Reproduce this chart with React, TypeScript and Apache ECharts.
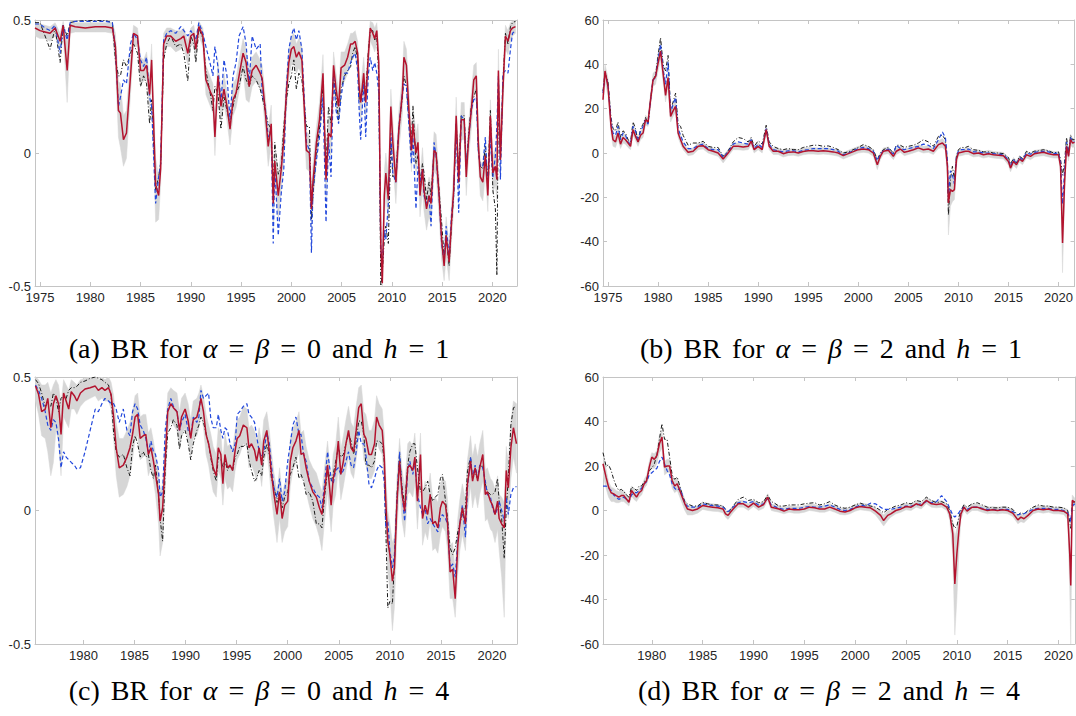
import React, { useEffect, useRef } from 'react';
import * as echarts from 'echarts';

// ---------- Panel (a): alpha = beta = 0, h = 1 ----------
const A_X = [1974.5,1975.0,1975.5,1976.0,1976.5,1977.0,1977.3,1977.7,1978.0,1978.5,
1979.5,1980.5,1981.5,1982.2,1982.5,1982.8,1983.0,1983.3,1983.6,1984.0,
1984.3,1984.7,1985.0,1985.3,1985.6,1985.9,1986.1,1986.5,1986.8,1987.0,
1987.3,1987.6,1988.0,1988.5,1989.0,1989.3,1989.7,1990.0,1990.3,1990.5,
1990.8,1991.2,1991.5,1992.0,1992.2,1992.4,1992.7,1993.0,1993.3,1993.6,
1993.9,1994.2,1994.5,1994.8,1995.2,1995.5,1995.8,1996.1,1996.5,1996.9,
1997.1,1997.4,1997.7,1998.0,1998.2,1998.35,1998.7,1999.0,1999.25,1999.5,
1999.75,2000.0,2000.25,2000.5,2000.75,2001.05,2001.5,2001.8,2002.0,2002.15,
2002.5,2002.8,2003.15,2003.45,2003.7,2003.95,2004.2,2004.45,2004.7,2004.95,
2005.3,2005.6,2005.9,2006.1,2006.35,2006.6,2006.75,2006.9,2007.2,2007.4,
2007.65,2007.85,2008.1,2008.3,2008.5,2008.7,2008.9,2009.05,2009.25,2009.4,
2009.65,2009.9,2010.1,2010.4,2010.7,2011.05,2011.2,2011.45,2011.7,2011.95,
2012.1,2012.4,2012.6,2012.8,2013.05,2013.2,2013.45,2013.7,2013.9,2014.2,
2014.4,2014.7,2014.95,2015.2,2015.4,2015.7,2015.95,2016.15,2016.4,2016.65,
2016.9,2017.2,2017.4,2017.65,2017.9,2018.15,2018.4,2018.6,2018.8,2019.05,
2019.3,2019.55,2019.8,2020.05,2020.3,2020.45,2020.6,2020.8,2021.05,2021.3,
2021.55,2021.8,2022.0,2022.3];
const A_RED = [0.47,0.46,0.455,0.45,0.47,0.42,0.48,0.31,0.48,0.475,
0.47,0.475,0.475,0.47,0.40,0.16,0.15,0.05,0.075,0.29,
0.45,0.44,0.31,0.31,0.33,0.22,0.35,-0.12,-0.16,-0.06,
0.41,0.44,0.44,0.42,0.43,0.44,0.375,0.44,0.45,0.39,
0.475,0.44,0.275,0.225,0.21,0.06,0.29,0.175,0.24,0.175,
0.09,0.2,0.225,0.29,0.375,0.34,0.25,0.31,0.33,0.30,
0.28,0.16,0.025,0.11,-0.19,-0.03,-0.16,-0.06,0.05,0.22,
0.34,0.39,0.40,0.36,0.38,0.35,0.01,0.0,-0.21,-0.11,
0.04,0.125,0.3,-0.1,0.075,0.06,0.33,0.24,0.175,0.32,
0.33,0.36,0.41,0.41,0.42,0.375,0.25,0.19,0.3,0.19,
0.36,0.47,0.45,0.43,0.46,0.34,-0.34,-0.49,-0.16,-0.075,
-0.175,0.175,0.04,-0.11,0.09,0.225,0.36,0.33,0.16,0.01,
0.11,0.0,0.04,-0.16,-0.06,-0.14,-0.21,-0.16,-0.19,0.01,
0.0,-0.16,-0.325,-0.425,-0.31,-0.41,-0.25,-0.14,0.14,-0.11,
0.125,0.125,-0.09,0.06,0.16,0.275,0.29,0.04,-0.09,-0.11,
-0.01,-0.16,0.14,-0.075,-0.05,-0.1,0.31,-0.025,0.24,0.44,
0.42,0.46,0.47,0.475];
const A_BLACK = [0.49,0.49,0.44,0.39,0.47,0.34,0.48,0.44,0.49,0.495,
0.498,0.498,0.498,0.49,0.35,0.29,0.29,0.35,0.325,0.375,
0.41,0.375,0.25,0.29,0.26,0.11,0.2,-0.14,-0.09,-0.04,
0.35,0.41,0.44,0.40,0.41,0.375,0.27,0.44,0.41,0.34,
0.47,0.43,0.31,0.21,0.16,0.25,0.225,0.09,0.21,0.16,
0.11,0.175,0.225,0.25,0.325,0.275,0.25,0.29,0.275,0.24,
0.21,0.16,0.11,0.09,-0.14,0.04,-0.08,-0.05,0.1,0.2,
0.26,0.29,0.35,0.24,0.3,0.275,0.1,0.1,-0.25,-0.16,
0.01,0.09,0.25,-0.06,0.175,0.11,0.29,0.21,0.125,0.24,
0.29,0.31,0.325,0.375,0.4,0.35,0.2,0.19,0.26,0.225,
0.375,0.46,0.46,0.425,0.44,0.29,-0.5,-0.45,-0.325,-0.275,
-0.34,0.04,-0.09,-0.075,0.09,0.21,0.29,0.25,0.125,0.04,
0.175,-0.04,-0.01,-0.11,-0.04,-0.075,-0.175,-0.11,-0.16,0.01,
0.0,-0.14,-0.26,-0.39,-0.31,-0.425,-0.26,-0.16,0.11,-0.06,
0.14,0.14,-0.06,0.075,0.175,0.21,0.24,0.01,-0.05,-0.06,
0.025,-0.11,0.16,-0.14,-0.21,-0.46,0.225,-0.025,0.26,0.45,
0.41,0.475,0.49,0.495];
const A_BLUE = [0.485,0.485,0.47,0.46,0.48,0.375,0.48,0.425,0.49,0.495,
0.495,0.495,0.495,0.49,0.39,0.175,0.21,0.275,0.26,0.41,
0.45,0.425,0.35,0.325,0.36,0.21,0.175,-0.19,-0.09,-0.04,
0.425,0.45,0.46,0.45,0.475,0.46,0.44,0.46,0.44,0.425,
0.49,0.45,0.4,0.325,0.29,0.4,0.325,0.19,0.35,0.29,
0.125,0.29,0.34,0.44,0.475,0.41,0.26,0.44,0.39,0.41,
0.225,0.175,0.06,0.09,-0.34,-0.05,-0.31,-0.15,-0.06,0.24,
0.39,0.44,0.47,0.425,0.46,0.39,0.04,0.01,-0.375,-0.14,
-0.025,0.06,0.21,-0.26,0.05,-0.09,0.29,0.16,0.11,0.21,
0.3,0.3,0.34,0.36,0.375,0.31,0.16,0.05,0.275,0.06,
0.29,0.36,0.31,0.34,0.3,0.225,-0.36,-0.41,-0.29,-0.325,
-0.19,0.075,-0.075,-0.11,0.1,0.225,0.26,0.25,0.1,-0.04,
0.06,-0.21,-0.05,-0.11,-0.06,-0.16,-0.19,-0.16,-0.275,0.04,
-0.01,-0.16,-0.34,-0.41,-0.275,-0.39,-0.225,-0.16,0.11,-0.225,
0.14,0.125,-0.05,0.06,0.16,0.2,0.21,0.01,-0.05,-0.05,
0.06,-0.14,0.06,-0.09,-0.01,0.1,0.29,-0.1,0.3,0.31,
0.3,0.39,0.45,0.46];
const A_LO = [0.44,0.43,0.43,0.42,0.44,0.38,0.45,0.19,0.45,0.455,
0.455,0.455,0.455,0.45,0.33,0.06,0.02,-0.05,-0.02,0.22,
0.40,0.40,0.26,0.27,0.28,0.16,0.28,-0.26,-0.25,-0.12,
0.36,0.40,0.40,0.38,0.39,0.40,0.33,0.40,0.41,0.34,
0.44,0.40,0.22,0.17,0.15,-0.01,0.22,0.12,0.18,0.12,
0.03,0.14,0.17,0.23,0.31,0.2,0.19,0.25,0.27,0.24,
0.22,0.09,-0.05,0.03,-0.3,-0.1,-0.25,-0.14,-0.03,0.15,
0.28,0.33,0.34,0.30,0.32,0.29,-0.06,-0.07,-0.29,-0.19,
-0.03,0.06,0.23,-0.17,0.0,-0.01,0.26,0.17,0.11,0.25,
0.27,0.30,0.35,0.35,0.37,0.31,0.18,0.12,0.23,0.12,
0.29,0.42,0.40,0.38,0.41,0.27,-0.45,-0.5,-0.26,-0.16,
-0.26,0.1,-0.04,-0.19,0.01,0.15,0.28,0.26,0.09,-0.07,
0.04,-0.08,-0.03,-0.24,-0.14,-0.22,-0.29,-0.24,-0.27,-0.07,
-0.08,-0.24,-0.4,-0.48,-0.39,-0.48,-0.32,-0.21,0.07,-0.18,
0.05,0.05,-0.16,-0.01,0.09,0.21,0.23,-0.03,-0.16,-0.18,
-0.08,-0.22,0.07,-0.15,-0.12,-0.18,0.23,-0.09,0.17,0.39,
0.37,0.42,0.44,0.45];
const A_HI = [0.49,0.485,0.48,0.475,0.49,0.45,0.495,0.42,0.495,0.49,
0.49,0.49,0.49,0.49,0.45,0.27,0.26,0.14,0.16,0.36,
0.48,0.47,0.36,0.35,0.38,0.28,0.41,-0.02,-0.09,0.01,
0.45,0.47,0.47,0.46,0.46,0.47,0.42,0.47,0.48,0.43,
0.495,0.47,0.33,0.28,0.26,0.13,0.35,0.23,0.3,0.23,
0.15,0.26,0.28,0.35,0.43,0.39,0.31,0.36,0.38,0.35,
0.33,0.22,0.09,0.18,-0.1,0.03,-0.08,0.01,0.12,0.28,
0.39,0.44,0.45,0.41,0.43,0.40,0.08,0.07,-0.12,-0.04,
0.1,0.19,0.37,-0.02,0.14,0.12,0.38,0.3,0.23,0.38,
0.38,0.41,0.45,0.45,0.46,0.42,0.31,0.25,0.36,0.25,
0.41,0.495,0.49,0.47,0.49,0.4,-0.2,-0.4,-0.07,0.0,
-0.09,0.24,0.12,-0.04,0.16,0.29,0.42,0.39,0.23,0.08,
0.18,0.07,0.11,-0.09,0.02,-0.07,-0.14,-0.09,-0.12,0.08,
0.07,-0.09,-0.26,-0.37,-0.24,-0.35,-0.18,-0.07,0.21,-0.04,
0.19,0.19,-0.02,0.12,0.22,0.33,0.34,0.1,-0.03,-0.05,
0.05,-0.1,0.2,-0.01,0.02,-0.03,0.39,0.04,0.3,0.48,
0.46,0.49,0.495,0.5];

// ---------- Panel (b): alpha = beta = 2, h = 1 ----------
const B_X = [1974.5,1974.7,1975.0,1975.3,1975.5,1975.75,1976.0,1976.25,1976.5,1976.75,
1977.0,1977.25,1977.5,1977.75,1978.0,1978.25,1978.5,1978.75,1979.0,1979.25,
1979.5,1979.75,1980.0,1980.25,1980.5,1980.75,1981.0,1981.25,1981.5,1981.75,
1982.0,1982.25,1982.5,1983.0,1983.5,1984.0,1984.5,1985.0,1985.5,1986.0,
1986.5,1987.0,1987.5,1988.0,1988.5,1989.0,1989.3,1989.6,1990.0,1990.4,
1990.8,1991.1,1991.5,1992.0,1992.5,1993.0,1993.5,1994.0,1994.5,1995.0,
1995.5,1996.0,1996.5,1997.0,1997.5,1998.0,1998.5,1999.0,2000.0,2000.5,
2001.0,2001.5,2001.9,2002.2,2002.5,2003.0,2003.5,2003.8,2004.2,2004.6,
2005.0,2005.5,2006.0,2006.5,2007.0,2007.5,2008.0,2008.4,2008.7,2008.9,
2009.0,2009.2,2009.4,2009.6,2009.8,2010.0,2010.3,2010.7,2011.0,2011.5,
2012.0,2012.5,2013.0,2013.5,2014.0,2014.5,2015.0,2015.2,2015.5,2015.8,
2016.1,2016.4,2016.8,2017.2,2017.6,2018.0,2018.5,2019.0,2019.5,2020.0,
2020.2,2020.4,2020.6,2020.8,2021.0,2021.2,2021.4,2021.6];
const B_RED = [24,37,30,12,6,5,9,4,7,6,
4.5,3,10.5,7.5,5,8,9,15,14,24,
33,34.5,40.5,46,36,26,34,16.5,19,21,
9,6,3,0.3,0.8,3,3.3,1.5,0.8,0,
-2.7,0,3,3,2.7,3,5.3,1.5,3,1.5,
10.5,3,0.8,0.8,-0.3,0.3,0.5,0,0.7,1,
1,0.8,1,0.8,0.5,0,-1.2,-0.3,1.5,1.8,
1.5,0,-5.3,-1.5,0.8,1.2,-1.5,0.8,1.8,0.3,
0.8,1.5,2.3,1.5,1.8,0.8,3.8,4.5,3,-6,
-22.5,-16.5,-17.3,-16.5,-3,0,0.3,0.8,0.8,-0.3,
0,-0.8,-0.3,-0.8,-1,-1.2,-3.8,-6.8,-3.8,-5.3,
-2.7,-3.8,-0.8,-1.5,-0.3,0,0.3,-0.3,-0.8,-0.8,
-6,-40.6,-13.5,3,-1.5,6,4.5,4.8];
const B_BLACK = [28,36,32,16,11,10,14,7,10,9,
6,5,14,11,5,11,13,16,13,24,
33,35,44,52,40,37,44,19,23,27,
13,12,8,3.5,4.5,4.5,5.3,3,2.5,2.5,
-1.5,1,5,7,6.5,5,7,3,5.5,4,
12.5,5,3,2,1.5,2,1.5,1.5,2.5,3,
3.5,3.5,3,3.2,2.5,1.5,0,0.5,2.5,3.8,
3,1.5,-3,0,1.5,2.5,0,3.5,3.5,2.5,
3,3.5,4.5,6,5,3,7.5,8,6,-5,
-28,-12,-6,-12,-1.5,1.5,2.5,2.5,3,1.5,
1.2,0.5,0.5,0,0,-0.3,-2,-5,-2.5,-4.5,
-1.5,-2.5,0.8,0,0.8,1,1.5,1,0,0.5,
-3,-10,-4,7,0,8,6,6];
const B_BLUE = [27,36,31,14,9,8,12,6,9,8,
5,4,12,10,5,10,12,15,13,24,
33,34,42,49,38,31,41,18,22,25,
11,8,5,2,2,3.5,4,2,1.5,1.5,
-2,0.5,4,5,4.5,4,6,2,4,2.5,
11,4,1.5,1,0.5,1,1,0.5,1.2,1.5,
2,2,2,2,1.5,0.8,-0.8,0,2,2.5,
2,0.8,-3.5,-0.5,1,1.8,-0.5,3.5,2,1.5,
2,2.5,3,4,3.5,2,6,9.5,7,-3,
-20,-8,-10,-14,-2,1,1.5,1.5,1.8,0.5,
0.5,0,0,-0.3,-0.5,-0.8,-3,-6,-3,-5,
-2,-3,0,-0.5,0.3,0.5,0.8,0.5,-0.3,0,
-4,-23,-8,5,-1,7,5,5];
const B_LO = [21,32,26,9,3,2.5,6,2,4.5,4,
2.5,1.5,8,5.5,3,6,7,12.5,12,21,
30,31,37,42,32,23,30,14,16.5,18.5,
7,4,1.5,-1.2,-0.8,1.5,1.8,0,-0.8,-1.5,
-4.5,-1.5,1.5,1.5,1.2,1.5,3.5,0,1.5,0,
8.5,1.5,-0.7,-0.7,-1.8,-1.2,-1,-1.5,-0.8,-0.5,
-0.5,-0.7,-0.5,-0.7,-1,-1.5,-2.7,-1.8,0,0.3,
0,-1.5,-7.5,-3,-0.7,-0.3,-3,-0.7,0.3,-1.2,
-0.7,0,0.8,0,0.3,-0.7,2,2.5,1,-12,
-37,-24,-22,-21,-6,-1.5,-1.2,-0.7,-0.7,-1.8,
-1.5,-2.3,-1.8,-2.3,-2.5,-2.7,-5.5,-8.5,-5.5,-7,
-4.2,-5.3,-2.3,-3,-1.8,-1.5,-1.2,-1.8,-2.3,-2.3,
-9,-54,-20,0.5,-3.5,3.5,2.5,2.8];
const B_HI = [30,40,34,15,8.5,7.5,11.5,6,9.5,8,
6.5,5,13,9.5,7,10,11,17,16,27,
36,37,45,50,40,29,37,19,21.5,23.5,
11,8,4.5,1.8,2.3,4.5,4.8,3,2.3,1.5,
-1,1.5,4.5,4.5,4.2,4.5,7,3,4.5,3,
12.5,4.5,2.3,2.3,1.2,1.8,2,1.5,2.2,2.5,
2.5,2.3,2.5,2.3,2,1.5,0.3,1.2,3,3.3,
3,1.5,-3,0,2.3,2.7,0,2.3,3.3,1.8,
2.3,3,3.8,3,3.3,2.3,5.5,6.5,5,-2,
-12,-10,-12,-11,-0.5,1.5,1.8,2.3,2.3,1.2,
1.5,0.7,1.2,0.7,0.5,0.3,-2,-5,-2,-3.5,
-1.2,-2.3,0.7,0,1.2,1.5,1.8,1.2,0.7,0.7,
-3,-25,-7,6,0.5,8.5,6.5,6.8];

// ---------- Panel (c): alpha = beta = 0, h = 4 ----------
const C_X = [1975.3,1975.6,1975.9,1976.25,1976.5,1976.8,1977.05,1977.3,1977.55,1977.8,
1978.05,1978.3,1978.55,1978.8,1979.1,1979.35,1979.7,1980.15,1980.65,1981.15,
1981.45,1981.8,1982.1,1982.45,1982.7,1982.95,1983.2,1983.5,1983.9,1984.25,
1984.55,1984.8,1985.05,1985.3,1985.55,1985.85,1986.1,1986.35,1986.6,1986.85,
1987.05,1987.35,1987.5,1987.75,1988.0,1988.25,1988.55,1988.8,1989.15,1989.4,
1989.6,1989.95,1990.25,1990.5,1990.75,1991.1,1991.3,1991.5,1991.75,1992.0,
1992.25,1992.45,1992.7,1993.0,1993.2,1993.45,1993.65,1993.85,1994.1,1994.35,
1994.6,1994.85,1995.05,1995.3,1995.65,1996.0,1996.2,1996.45,1996.75,1996.95,
1997.2,1997.45,1997.65,1997.95,1998.2,1998.4,1998.65,1998.95,1999.2,1999.45,
1999.7,2000.0,2000.25,2000.5,2000.8,2001.1,2001.3,2001.55,2001.8,2002.1,
2002.45,2002.8,2003.1,2003.35,2003.6,2003.9,2004.25,2004.45,2004.7,2004.95,
2005.2,2005.45,2005.7,2005.95,2006.2,2006.45,2006.7,2006.95,2007.2,2007.45,
2007.65,2007.95,2008.2,2008.5,2008.7,2008.95,2009.25,2009.45,2009.6,2009.8,
2010.0,2010.25,2010.45,2010.7,2010.95,2011.2,2011.45,2011.75,2011.95,2012.25,
2012.45,2012.7,2013.0,2013.2,2013.45,2013.7,2013.95,2014.2,2014.45,2014.7,
2014.95,2015.15,2015.45,2015.65,2015.9,2016.15,2016.4,2016.65,2016.85,2017.1,
2017.4,2017.6,2017.9,2018.1,2018.35,2018.6,2018.8,2019.1,2019.35,2019.55,
2019.85,2020.05,2020.3,2020.55,2020.7,2020.95,2021.2,2021.4,2021.6,2021.85,
2022.1,2022.4];
const C_RED = [0.466,0.435,0.37,0.38,0.42,0.31,0.40,0.43,0.40,0.285,
0.44,0.41,0.38,0.445,0.43,0.41,0.44,0.455,0.46,0.466,
0.45,0.46,0.45,0.46,0.435,0.35,0.235,0.16,0.17,0.2,
0.235,0.285,0.35,0.36,0.27,0.28,0.285,0.21,0.235,0.185,
0.135,0.06,-0.04,0.01,0.185,0.37,0.40,0.385,0.37,0.30,
0.35,0.38,0.335,0.27,0.34,0.35,0.38,0.42,0.37,0.285,
0.25,0.21,0.16,0.13,0.235,0.21,0.10,0.21,0.16,0.17,
0.15,0.225,0.27,0.28,0.32,0.31,0.235,0.25,0.225,0.185,
0.235,0.17,0.26,0.30,0.22,0.14,0.06,-0.015,0.07,-0.03,
0.02,0.035,0.185,0.235,0.26,0.30,0.21,0.215,0.16,0.11,
0.07,0.05,0.01,-0.015,0.07,0.17,0.02,0.12,0.16,0.26,
0.135,0.185,0.25,0.30,0.235,0.22,0.30,0.385,0.40,0.285,
0.27,0.21,0.21,0.25,0.35,0.32,0.30,0.20,0.035,-0.115,
-0.165,-0.265,-0.215,0.035,0.185,0.06,-0.003,0.16,0.17,0.15,
0.20,0.035,0.21,-0.03,0.02,-0.015,0.06,-0.05,-0.04,-0.065,
0.01,0.035,0.02,-0.05,-0.23,-0.22,-0.33,-0.13,-0.05,0.01,
-0.05,0.10,0.185,0.11,0.16,0.11,0.16,0.21,0.06,0.07,
0.035,0.02,-0.015,0.035,-0.03,-0.05,-0.065,0.15,0.085,0.235,
0.31,0.25];
const C_BLACK = [0.49,0.475,0.44,0.39,0.40,0.39,0.44,0.42,0.37,0.42,
0.43,0.42,0.45,0.46,0.46,0.465,0.48,0.485,0.495,0.5,
0.495,0.49,0.48,0.47,0.43,0.29,0.22,0.20,0.21,0.16,
0.13,0.24,0.28,0.25,0.20,0.22,0.20,0.21,0.15,0.12,
0.17,0.06,-0.03,-0.115,0.15,0.29,0.31,0.34,0.32,0.23,
0.28,0.30,0.25,0.19,0.25,0.30,0.32,0.35,0.33,0.29,
0.25,0.20,0.15,0.11,0.20,0.19,0.16,0.19,0.15,0.17,
0.15,0.20,0.21,0.24,0.24,0.25,0.19,0.15,0.11,0.12,
0.15,0.13,0.20,0.25,0.21,0.12,0.09,0.03,0.07,0.01,
0.05,0.07,0.135,0.16,0.20,0.12,0.135,0.11,0.06,0.07,
0.035,-0.05,-0.05,-0.065,0.05,0.15,0.11,0.135,0.185,0.235,
0.20,0.21,0.25,0.285,0.26,0.21,0.26,0.335,0.335,0.285,
0.17,0.17,0.16,0.185,0.26,0.26,0.25,0.185,-0.065,-0.365,
-0.34,-0.35,-0.19,0.06,0.21,0.085,0.02,0.17,0.22,0.25,
0.25,0.16,0.07,0.07,0.085,0.11,0.06,0.035,0.05,0.06,
0.12,0.135,0.035,-0.03,-0.14,-0.165,-0.14,-0.08,-0.05,-0.015,
0.01,0.15,0.20,0.12,0.135,0.12,0.16,0.17,0.10,0.07,
0.06,0.06,0.07,0.12,0.035,-0.03,-0.18,0.01,0.12,0.32,
0.385,0.39];
const C_BLUE = [0.47,0.45,0.42,0.37,0.32,0.30,0.34,0.33,0.27,0.16,
0.22,0.20,0.19,0.18,0.17,0.155,0.16,0.22,0.30,0.38,
0.37,0.40,0.42,0.41,0.40,0.40,0.38,0.33,0.38,0.30,
0.28,0.37,0.40,0.38,0.32,0.30,0.27,0.22,0.26,0.22,
0.21,0.15,0.05,0.07,0.30,0.38,0.42,0.39,0.37,0.30,
0.33,0.36,0.30,0.28,0.35,0.33,0.35,0.45,0.42,0.43,
0.44,0.35,0.31,0.31,0.36,0.30,0.27,0.31,0.30,0.25,
0.22,0.25,0.36,0.37,0.39,0.40,0.36,0.35,0.33,0.28,
0.22,0.20,0.22,0.29,0.25,0.17,0.085,0.05,0.12,0.035,
0.07,0.185,0.25,0.32,0.35,0.285,0.285,0.21,0.185,0.11,
0.085,0.06,0.05,0.01,0.10,0.22,0.12,0.10,0.15,0.16,
0.135,0.15,0.185,0.22,0.17,0.16,0.22,0.30,0.25,0.25,
0.21,0.10,0.085,0.12,0.15,0.17,0.16,0.11,-0.065,-0.04,
-0.15,-0.215,-0.165,0.035,0.22,0.06,-0.04,0.15,0.185,0.135,
0.185,0.06,0.01,-0.015,0.01,-0.05,-0.03,-0.05,-0.065,-0.08,
-0.03,-0.015,-0.03,-0.05,-0.215,-0.20,-0.25,-0.115,-0.05,0.02,
-0.10,0.085,0.20,0.12,0.17,0.12,0.17,0.16,0.11,0.06,
0.05,0.01,-0.015,0.01,0.035,0.0,-0.04,0.05,-0.015,0.06,
0.085,0.09];
const C_LO = [0.41,0.36,0.28,0.27,0.22,0.13,0.18,0.30,0.26,0.13,
0.35,0.33,0.31,0.38,0.38,0.36,0.39,0.41,0.42,0.43,
0.41,0.42,0.41,0.41,0.38,0.27,0.13,0.05,0.06,0.09,
0.13,0.19,0.27,0.28,0.19,0.20,0.21,0.13,0.16,0.11,
0.06,-0.05,-0.17,-0.12,0.08,0.30,0.34,0.32,0.30,0.23,
0.28,0.31,0.26,0.20,0.27,0.28,0.31,0.36,0.31,0.21,
0.17,0.12,0.07,0.05,0.15,0.12,0.02,0.12,0.08,0.09,
0.07,0.15,0.19,0.21,0.25,0.24,0.16,0.17,0.14,0.11,
0.16,0.09,0.18,0.22,0.14,0.05,-0.03,-0.12,-0.03,-0.12,
-0.08,-0.06,0.09,0.15,0.18,0.22,0.12,0.12,0.07,0.02,
-0.03,-0.06,-0.1,-0.15,-0.04,0.07,-0.08,0.02,0.06,0.16,
0.04,0.09,0.15,0.20,0.14,0.12,0.19,0.27,0.30,0.19,
0.17,0.12,0.12,0.15,0.26,0.23,0.21,0.10,-0.07,-0.23,
-0.3,-0.45,-0.36,-0.07,0.09,-0.04,-0.1,0.06,0.07,0.05,
0.10,-0.07,0.10,-0.13,-0.08,-0.11,-0.04,-0.15,-0.14,-0.16,
-0.09,-0.06,-0.08,-0.15,-0.33,-0.33,-0.40,-0.24,-0.15,-0.09,
-0.15,0.0,0.09,0.01,0.06,0.01,0.06,0.11,-0.04,-0.03,
-0.07,-0.08,-0.12,-0.07,-0.15,-0.25,-0.40,0.02,-0.03,0.12,
0.2,0.14];
const C_HI = [0.50,0.49,0.47,0.47,0.48,0.44,0.47,0.49,0.47,0.40,
0.49,0.47,0.45,0.49,0.48,0.47,0.49,0.495,0.50,0.50,
0.49,0.50,0.49,0.50,0.48,0.43,0.33,0.27,0.27,0.30,
0.33,0.37,0.43,0.44,0.35,0.36,0.36,0.29,0.31,0.26,
0.21,0.14,0.07,0.10,0.27,0.44,0.46,0.45,0.44,0.37,
0.42,0.44,0.40,0.34,0.41,0.42,0.44,0.47,0.43,0.36,
0.32,0.29,0.24,0.21,0.31,0.29,0.18,0.29,0.24,0.25,
0.23,0.30,0.34,0.35,0.39,0.38,0.31,0.32,0.30,0.26,
0.31,0.25,0.34,0.37,0.30,0.22,0.14,0.07,0.16,0.06,
0.10,0.12,0.27,0.31,0.33,0.37,0.29,0.30,0.24,0.19,
0.16,0.14,0.10,0.07,0.16,0.26,0.11,0.21,0.25,0.35,
0.23,0.28,0.34,0.39,0.33,0.31,0.39,0.46,0.47,0.37,
0.36,0.30,0.30,0.34,0.43,0.40,0.38,0.29,0.13,0.0,
-0.05,-0.12,-0.1,0.13,0.27,0.15,0.09,0.25,0.26,0.24,
0.29,0.12,0.29,0.06,0.11,0.07,0.14,0.04,0.05,0.03,
0.1,0.12,0.11,0.04,-0.13,-0.12,-0.23,-0.03,0.04,0.1,
0.04,0.19,0.28,0.2,0.25,0.2,0.25,0.3,0.15,0.16,
0.12,0.11,0.08,0.13,0.06,0.05,0.03,0.24,0.18,0.33,
0.41,0.4];

// ---------- Panel (d): alpha = beta = 2, h = 4 ----------
const D_X = [1975.2,1975.5,1975.75,1976.0,1976.25,1976.5,1976.75,1977.0,1977.25,1977.5,
1977.75,1978.0,1978.25,1978.5,1978.75,1979.0,1979.25,1979.5,1979.75,1980.0,
1980.25,1980.5,1980.75,1981.0,1981.25,1981.5,1981.75,1982.0,1982.25,1982.5,
1982.75,1983.0,1983.25,1983.5,1984.0,1984.5,1985.0,1985.5,1986.0,1986.5,
1987.0,1987.25,1987.5,1987.75,1988.0,1988.5,1989.0,1989.5,1990.0,1990.5,
1991.0,1991.4,1991.75,1992.0,1992.5,1993.0,1993.5,1994.0,1994.5,1995.0,
1995.5,1996.0,1996.5,1997.0,1997.5,1998.0,1998.5,1999.0,1999.5,2000.0,
2000.5,2001.0,2001.5,2002.0,2002.5,2002.8,2003.2,2003.5,2004.0,2004.5,
2005.0,2005.5,2006.0,2006.5,2007.0,2007.5,2008.0,2008.5,2009.0,2009.3,
2009.6,2009.8,2010.0,2010.2,2010.4,2010.7,2011.0,2011.5,2012.0,2012.5,
2013.0,2013.5,2014.0,2014.5,2015.0,2015.5,2016.0,2016.3,2016.6,2017.0,
2017.5,2018.0,2018.5,2019.0,2019.5,2020.0,2020.5,2020.9,2021.1,2021.2,
2021.35,2021.6];
const D_RED = [21,15,10.5,8,7.5,6.7,6,6.7,6.7,5.2,
3.7,9,7.5,6,8,9,12,13.5,19.5,24,
23,24.7,30,33,19.5,20,20,13.5,11,12,
9,6,3,0.7,0,0.7,2.2,1.8,1.5,1.2,
0.7,-1.5,-2.2,-0.7,0.7,3,3,1.5,3.3,1.5,
2.7,6,1.5,1.2,0.7,-0.3,0.7,0.3,0.3,0.7,
1.5,1.2,0.7,0.7,1.5,0.7,-0.3,-0.7,0,1.2,
1.8,1.5,1.2,-0.3,-2.2,-4.5,-2.2,-1.5,0,0.7,
1.8,1.5,3,2.2,4.5,3,2.7,3,1.5,-1.5,
-10.5,-33,-19.5,-9,-1.5,1.5,-0.3,1.5,1.5,0.7,
0,0.3,0,0.3,0,-1.2,-4.2,-3,-3.7,-2.2,
0,0.7,0.3,0.7,0,0,-0.3,-1.5,-19.5,-33.7,
4.5,3.7];
const D_BLACK = [26,20,20.5,18,14,11,9,9.5,8.5,7,
6,10.5,10,9,11,11,13,14,18,19,
21,25,32,39,32,32,24,16,14,15,
11,7,4,3,2,2,3.7,3,2.5,2.5,
2,0.5,-1,0.5,2,5,6,4.5,5,3.5,
4,7,4,3.5,2,2,2.5,2.5,2.5,3,
3.3,3.5,2.5,3,4,2.5,1.5,1,1.5,2.5,
3.3,2.5,2,1.5,0,-1,0.5,1,2,2.5,
3.5,3,4.5,4,6,4.5,3.5,4,3,0,
-6,-8,-7,-3,0,2.5,1.5,3,3.5,2.5,
1.5,1.2,1.2,1.5,1.5,0.5,-2,-1,-1.5,0,
1.5,2.5,2,2,1.5,1.5,1.2,0,-5,-8,
3,4];
const D_BLUE = [11,11,10,9,7,6,5,5.5,6,5,
4,7,8,8,9,10,12,13,16,17,
18,19,22,24,21,18,16,12,10,9,
10,7,3,2,1.5,1.5,3,2.5,2.2,2,
1.5,0.5,-0.5,0.5,1.5,3.5,4,3.5,4,2.5,
3,5.5,2.5,2,1,0.5,1,1,1,1.5,
1.8,1.5,1.5,2,2.5,1.5,0.5,0,0.5,1.5,
2.5,2,3.3,3,1.5,0.5,0.5,0.5,1,1.5,
2,2,2.5,3,4,3.5,4,6.7,4,1,
-2,-3,-2,-1,0.5,1.5,0.5,1.5,1.5,1,
0.5,0.5,0.3,0.5,0.5,-0.5,-2,-1.5,-1.5,-0.5,
0.5,1,1,1,0.5,0.5,0,-1,-3,-5,
2,3];
const D_LO = [16,10,6,4,4,3.5,3.5,4,4,3,
2,6.5,5,4,6,7,10,11.5,17,19,
19,21,26,28,16,17,17,10,8,9,
6,3,0,-2,-2,-1.2,0.5,0,-0.3,-0.5,
-1,-3,-4,-2.5,-1,1.5,1.5,0,1.8,0,
1,4.5,0,-0.3,-0.8,-1.5,-0.8,-1.2,-1.2,-0.8,
0,-0.3,-0.8,-0.8,0,-0.8,-1.8,-2,-1.5,-0.3,
0.3,0,-0.3,-2,-5,-7,-4.5,-3,-1.5,-0.8,
0.3,0,1.5,0.7,3,1.5,1.2,1.5,0,-4,
-20,-56,-40,-18,-4,0,-1.8,0,0,-0.8,
-1.5,-1.2,-1.5,-1.2,-1.5,-2.7,-6,-5,-5.5,-3.7,
-1.5,-0.8,-1.2,-0.8,-1.5,-1.5,-1.8,-4,-35,-60,
1.5,2];
const D_HI = [27,19,13,10.5,10,9,8.5,9,9,7.5,
5.5,11,10,8,10,11,14,16,22,26,
25.5,27,34,36,22,23,23,16,13.5,14.5,
11,8,5,2.5,1.5,2.2,3.7,3.3,3,2.7,
2.2,0,-0.5,1,2.2,4.5,4.5,3,4.8,3,
4.2,7.5,3,2.7,2.2,1.2,2.2,1.8,1.8,2.2,
3,2.7,2.2,2.2,3,2.2,1.2,0.8,1.5,2.7,
3.3,3,2.7,1.2,-0.5,-2,0,0,1.5,2.2,
3.3,3,4.5,3.7,6,4.5,4.2,4.5,3,0.5,
-5,-12,-8,-3,0.5,3,1.2,3,3,2.2,
1.5,1.8,1.5,1.8,1.5,0.3,-2.5,-1.5,-2,-0.8,
1.5,2.2,1.8,2.2,1.5,1.5,1.2,0.5,-8,-25,
7,5.5];

// ---------- Axis settings & captions ----------
const X_RANGES = [[1974.5, 2022.45], [1974.5, 2021.6], [1975.25, 2022.45], [1975.2, 2021.6]];
const Y_RANGES = [[-0.5, 0.5, 0.5], [-60, 60, 20], [-0.5, 0.5, 0.5], [-60, 60, 20]];
const CAPTIONS = [
  ['(a)', '0', '1'],
  ['(b)', '2', '1'],
  ['(c)', '0', '4'],
  ['(d)', '2', '4'],
];

const GRIDS = [
  { left: 35, top: 20, width: 482, height: 266 },
  { left: 603, top: 20, width: 472, height: 266 },
  { left: 35, top: 377, width: 482, height: 267 },
  { left: 603, top: 377, width: 472, height: 267 },
];
const CAPTION_POS = [[259, 348], [831, 348], [259, 690], [829, 690]];

const AXIS_COLOR = '#c4c4c4';
const LABEL_COLOR = '#262626';
const RED = '#b3132e';
const BLUE = '#2147dc';
const BLACK = '#1a1a1a';
const BAND = '#d6d6d6';

type Panel = { x: number[]; red: number[]; blue: number[]; black: number[]; lo: number[]; hi: number[] };
const PANELS: Panel[] = [
  { x: A_X, red: A_RED, blue: A_BLUE, black: A_BLACK, lo: A_LO, hi: A_HI },
  { x: B_X, red: B_RED, blue: B_BLUE, black: B_BLACK, lo: B_LO, hi: B_HI },
  { x: C_X, red: C_RED, blue: C_BLUE, black: C_BLACK, lo: C_LO, hi: C_HI },
  { x: D_X, red: D_RED, blue: D_BLUE, black: D_BLACK, lo: D_LO, hi: D_HI },
];

function pairs(xs: number[], ys: number[]) {
  const n = Math.min(xs.length, ys.length);
  const out: number[][] = [];
  for (let i = 0; i < n; i++) out.push([xs[i], ys[i]]);
  return out;
}

const SERIF = 'Liberation Serif, Times New Roman, serif';
const CAP_SIZE = 28;

function buildOption() {
  const xAxis: any[] = [];
  const yAxis: any[] = [];
  const series: any[] = [];
  const graphic: any[] = [];
  const yearFmt = (v: number) => {
    const r = Math.round(v);
    return Math.abs(v - r) < 1e-6 && r % 5 === 0 ? String(r) : '';
  };
  PANELS.forEach((p, i) => {
    const [xmin, xmax] = X_RANGES[i];
    const [ymin, ymax, yint] = Y_RANGES[i];
    const common = {
      axisLine: { show: true, onZero: false, lineStyle: { color: AXIS_COLOR, width: 1 } },
      axisTick: { show: true, inside: true, length: 4, lineStyle: { color: AXIS_COLOR } },
      splitLine: { show: false },
    };
    xAxis.push({
      type: 'value', gridIndex: i, min: xmin, max: xmax, splitNumber: 10, position: 'bottom',
      ...common,
      axisLabel: { color: LABEL_COLOR, fontSize: 13, fontFamily: 'Liberation Sans, Arial, sans-serif', margin: 5, formatter: yearFmt, showMinLabel: false, showMaxLabel: false },
    });
    xAxis.push({
      type: 'value', gridIndex: i, min: xmin, max: xmax, splitNumber: 10, position: 'top',
      ...common, axisLabel: { show: false },
    });
    yAxis.push({
      type: 'value', gridIndex: i, min: ymin, max: ymax, interval: yint, position: 'left',
      ...common,
      axisLabel: { color: LABEL_COLOR, fontSize: 13, fontFamily: 'Liberation Sans, Arial, sans-serif', margin: 4 },
    });
    yAxis.push({
      type: 'value', gridIndex: i, min: ymin, max: ymax, interval: yint, position: 'right',
      ...common, axisLabel: { show: false },
    });
    const xi = i * 2;
    const yi = i * 2;
    series.push({
      type: 'custom', xAxisIndex: xi, yAxisIndex: yi, silent: true, clip: true, z: 1,
      data: [[p.x[0], p.lo[0]]],
      renderItem: (_params: any, api: any) => {
        const n = Math.min(p.x.length, p.lo.length, p.hi.length);
        const pts: number[][] = [];
        for (let k = 0; k < n; k++) pts.push(api.coord([p.x[k], p.hi[k]]));
        for (let k = n - 1; k >= 0; k--) pts.push(api.coord([p.x[k], p.lo[k]]));
        return { type: 'polygon', shape: { points: pts }, style: { fill: BAND, stroke: BAND, lineWidth: 0.5 } };
      },
    });
    series.push({
      type: 'line', xAxisIndex: xi, yAxisIndex: yi, data: pairs(p.x, p.black), symbol: 'none', z: 2,
      lineStyle: { color: BLACK, width: 1, type: [4, 2, 1, 2] },
    });
    series.push({
      type: 'line', xAxisIndex: xi, yAxisIndex: yi, data: pairs(p.x, p.blue), symbol: 'none', z: 3,
      lineStyle: { color: BLUE, width: 1.2, type: [4, 2.5] },
    });
    series.push({
      type: 'line', xAxisIndex: xi, yAxisIndex: yi, data: pairs(p.x, p.red), symbol: 'none', z: 4,
      lineStyle: { color: RED, width: 1.5 },
    });
    const [lab, ab, h] = CAPTIONS[i];
    const [cx, cy] = CAPTION_POS[i];
    graphic.push({
      type: 'text', x: cx, y: cy, silent: true,
      style: {
        text: `{n|${lab}}{s| }{n|BR}{s| }{n|for}{s| }{i|α}{e|=}{i|β}{e|=}{n|${ab}}{s| }{n|and}{s| }{i|h}{e|=}{n|${h}}`,
        align: 'center', verticalAlign: 'middle',
        rich: {
          n: { fontFamily: SERIF, fontSize: CAP_SIZE, fill: '#000' },
          i: { fontFamily: SERIF, fontStyle: 'italic', fontSize: CAP_SIZE, fill: '#000' },
          e: { fontFamily: SERIF, fontSize: CAP_SIZE, fill: '#000', padding: [0, 11, 0, 11] },
          s: { fontFamily: SERIF, fontSize: CAP_SIZE, fill: '#000', width: 11 },
        },
      },
    });
  });
  return {
    animation: false,
    backgroundColor: '#ffffff',
    grid: GRIDS,
    xAxis, yAxis, series, graphic,
  };
}

export default function App() {
  const ref = useRef<HTMLDivElement>(null);
  useEffect(() => {
    if (!ref.current) return;
    const chart = echarts.init(ref.current, null, { renderer: 'svg' });
    chart.setOption(buildOption());
    return () => chart.dispose();
  }, []);
  return (
    <div
      ref={ref}
      style={{ position: 'fixed', left: 0, top: 0, width: 1076, height: 716, background: '#fff' }}
    />
  );
}
